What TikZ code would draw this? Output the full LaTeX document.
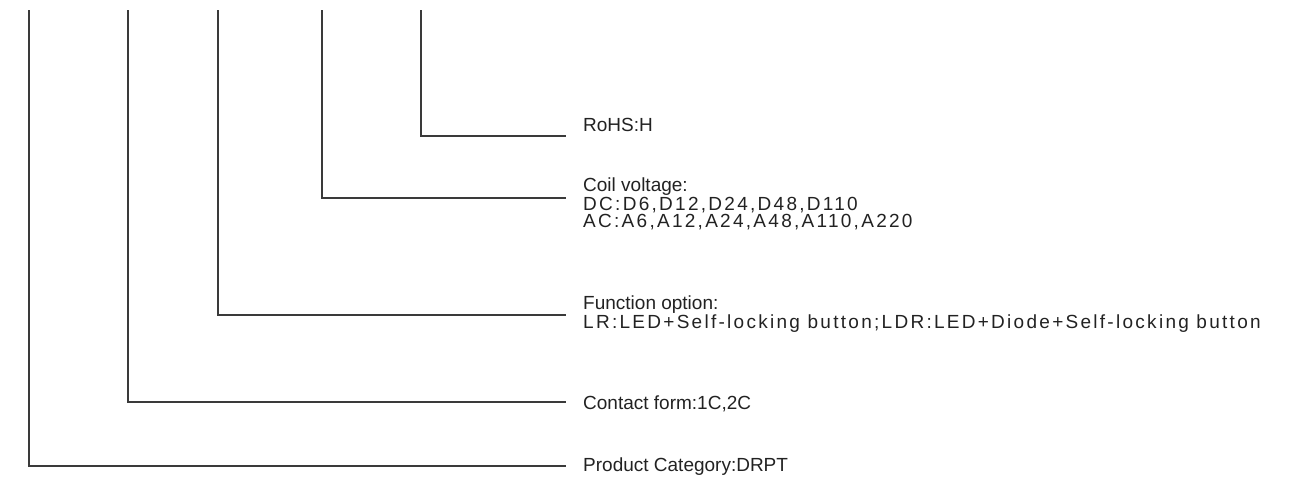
\documentclass[tikz,border=0pt]{standalone}
\usepackage{fontspec}
\setmainfont{Liberation Sans}
\newfontfamily\widespec[LetterSpace=12]{Liberation Sans}
\usepackage{tikz}
\usetikzlibrary{positioning}
\definecolor{leadGray}{HTML}{3A3A3A}
\definecolor{textGray}{HTML}{222222}
\begin{document}
\begin{tikzpicture}[x=1pt,y=-1pt]
    \tikzstyle{every node} = [font=\fontsize{19}{17}\selectfont, text=textGray]
    \tikzstyle{spec} = [inner sep=0pt, anchor=base west, align=left]
    \tikzstyle{lead} = [draw=leadGray, line width=1.5pt]
    \useasboundingbox (0,0) rectangle (1303,483);
    % place nodes
    \coordinate (productTop) at (29,10);
    \coordinate (contactTop) at (128,10);
    \coordinate (functionTop) at (218,10);
    \coordinate (coilTop) at (322,10);
    \coordinate (rohsTop) at (421,10);
    \coordinate (rohsEnd) at (566,136);
    \coordinate (coilEnd) at (566,198);
    \coordinate (functionEnd) at (566,315);
    \coordinate (contactEnd) at (566,402);
    \coordinate (productEnd) at (566,466);
    % base west is the last line of a node
    \node[spec] (rohsText) at (583,131) {RoHS:H};
    \node[spec] (coilText) at (583,227) {Coil voltage:\\{\widespec DC:D6,D12,D24,D48,D110}\\{\widespec AC:A6,A12,A24,A48,A110,A220}};
    \node[spec] (functionText) at (583,328) {Function option:\\{\widespec LR:LED+Self-locking button;LDR:LED+Diode+Self-locking button}};
    \node[spec] (contactText) at (583,409) {Contact form:1C,2C};
    \node[spec] (productText) at (583,471) {Product Category:DRPT};

    % Connections
    \draw[lead] (rohsTop) |- (rohsEnd);
    \draw[lead] (coilTop) |- (coilEnd);
    \draw[lead] (functionTop) |- (functionEnd);
    \draw[lead] (contactTop) |- (contactEnd);
    \draw[lead] (productTop) |- (productEnd);

  \end{tikzpicture}
\end{document}
